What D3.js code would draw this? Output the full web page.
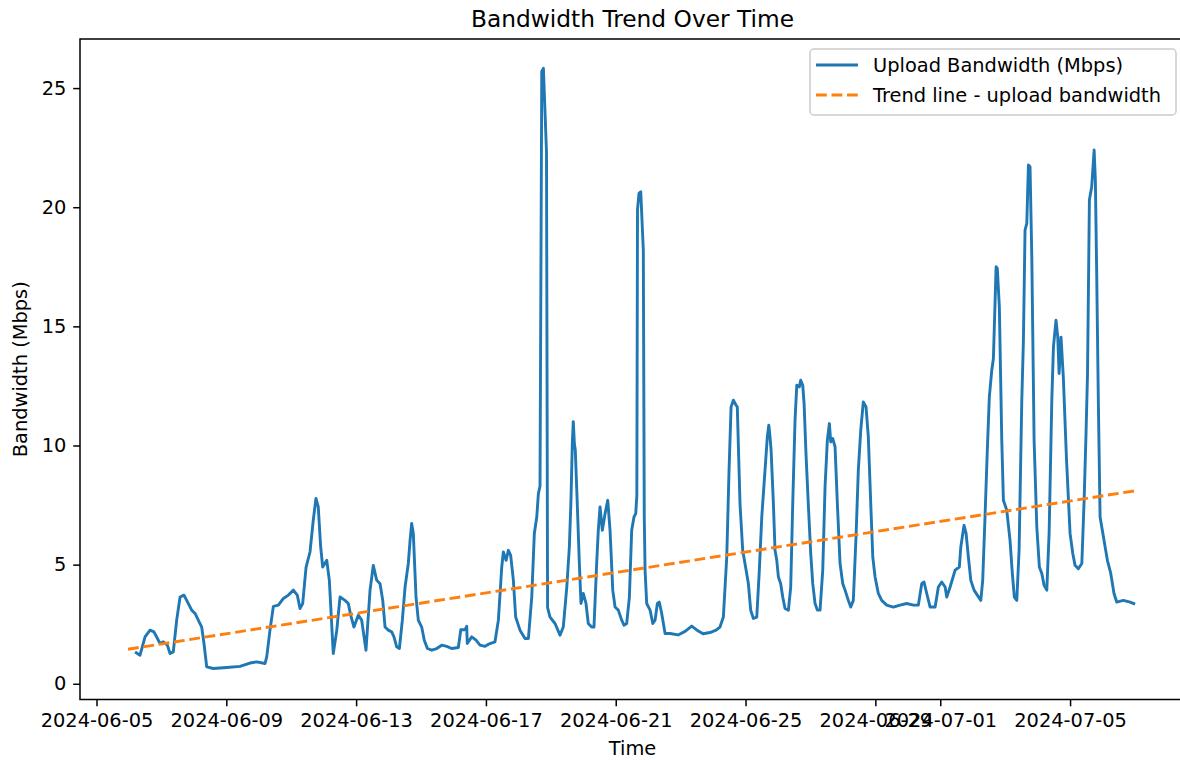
<!DOCTYPE html>
<html><head><meta charset="utf-8">
<script src="https://cdn.jsdelivr.net/npm/d3@7"></script>
<style>
body{margin:0;background:#fff}
svg{display:block;background:#fff}
text{font-family:"DejaVu Sans",sans-serif;fill:#000}
</style>
</head><body>
<svg id="chart" width="1180" height="760"></svg>
<script>
// ---- data ----
const startTime = "2024-06-05T00:00:00Z";
const hours = [28.5,32.2,35.9,39.6,42.5,47.0,49.4,52.4,54.4,56.8,59.3,61.8,64.7,66.7,70.4,72.9,75.3,77.8,79.5,81.5,86.4,96.3,106.1,113.5,118.5,124.6,125.9,128.3,130.8,134.5,138.2,141.9,145.6,148.5,150.5,152.5,155.0,157.9,160.3,162.3,164.0,165.8,167.3,170.3,172.2,175.1,177.7,180.1,183.8,186.2,188.0,190.4,193.6,196.1,199.3,202.3,204.7,207.2,209.7,211.7,213.4,215.8,218.3,220.0,222.0,224.0,226.2,228.2,230.6,231.9,233.1,234.3,236.3,238.0,240.5,242.4,244.7,247.9,251.6,255.3,259.0,262.7,267.6,269.4,272.5,273.8,274.2,277.5,280.7,283.6,287.3,291.0,294.7,297.2,299.7,300.9,302.9,304.6,306.3,308.3,310.0,313.2,316.9,319.4,321.9,323.8,325.6,326.8,328.0,329.3,330.5,332.8,333.6,335.4,339.1,342.8,345.2,347.8,349.7,350.9,351.9,352.6,353.4,354.1,355.4,357.1,358.3,360.0,362.0,363.7,366.2,367.9,369.9,371.1,372.4,374.1,376.1,378.1,379.8,381.8,383.5,385.9,388.4,390.1,392.1,394.1,395.8,397.5,398.8,399.6,400.1,401.2,402.5,404.4,405.1,405.7,406.9,409.4,411.4,413.1,414.8,416.2,418.0,420.5,424.2,430.1,435.3,440.2,444.1,448.6,453.7,458.2,461.1,463.6,466.1,467.8,469.3,471.0,473.0,473.9,475.9,477.9,480.4,482.1,483.8,485.8,488.3,490.2,492.0,494.4,496.1,497.2,498.1,498.9,500.6,501.8,503.1,504.3,506.0,507.5,509.2,511.7,513.4,514.9,516.6,517.9,519.8,520.8,522.3,523.3,524.7,526.4,528.2,529.7,531.4,533.1,535.1,537.1,538.8,540.5,542.0,543.0,544.5,546.2,547.9,549.9,551.9,553.6,556.0,557.8,559.7,561.7,563.4,565.2,567.1,569.1,570.8,572.6,574.1,575.8,578.2,580.7,584.4,589.3,594.3,599.2,604.1,607.8,610.3,612.0,614.0,616.5,620.2,622.6,625.1,627.6,628.8,631.3,635.0,638.1,639.2,641.6,643.1,644.8,646.6,649.0,651.4,654.0,655.4,657.1,658.8,660.3,662.1,663.3,665.3,666.2,667.7,669.5,670.7,673.2,675.6,677.3,678.8,680.6,682.3,684.3,685.5,686.7,688.0,689.2,690.4,691.7,693.4,695.4,697.3,699.1,700.8,702.8,704.5,706.5,707.7,709.6,710.9,711.9,713.3,715.0,717.3,720.0,722.0,723.7,726.1,728.7,730.4,731.8,732.9,734.3,736.0,737.8,738.7,739.7,740.9,742.2,745.1,747.6,750.1,752.5,754.5,759.4,764.4,768.1];
const upload = [1.33,1.2,1.97,2.25,2.18,1.69,1.76,1.62,1.27,1.34,2.67,3.64,3.72,3.5,3.09,2.95,2.67,2.38,1.69,0.71,0.64,0.68,0.73,0.87,0.92,0.85,1.13,2.25,3.25,3.3,3.58,3.72,3.93,3.72,3.16,3.37,4.9,5.53,6.86,7.78,7.42,5.74,4.9,5.18,4.34,1.27,2.25,3.64,3.5,3.37,2.88,2.38,2.88,2.67,1.41,3.93,4.97,4.35,4.2,3.5,2.38,2.25,2.18,1.97,1.55,1.48,2.67,4.06,5.05,6.02,6.73,6.31,3.64,2.67,2.38,1.83,1.48,1.41,1.48,1.62,1.57,1.48,1.52,2.27,2.27,2.41,1.69,1.97,1.83,1.62,1.57,1.69,1.76,2.67,4.9,5.53,5.18,5.6,5.39,4.34,2.8,2.25,1.9,1.9,3.64,6.31,7.0,7.98,8.3,25.7,25.83,22.3,3.2,2.8,2.53,2.04,2.38,4.06,5.74,7.7,10.1,11.0,10.1,9.8,7.8,5.05,3.37,3.79,3.37,2.53,2.38,2.38,5.05,6.44,7.42,6.44,7.14,7.7,6.44,3.93,3.22,3.09,2.67,2.46,2.53,3.64,6.44,7.0,7.14,7.9,19.9,20.58,20.65,18.2,7.0,4.76,3.37,3.09,2.53,2.67,3.37,3.43,2.95,2.11,2.11,2.05,2.2,2.42,2.25,2.1,2.15,2.25,2.38,2.8,5.32,8.96,11.62,11.9,11.69,11.62,7.56,5.6,4.77,4.2,3.09,2.74,2.8,4.77,7.0,8.96,10.36,10.85,10.36,9.8,7.56,5.6,5.18,4.48,4.2,3.64,3.16,3.09,4.06,7.56,11.06,12.53,12.46,12.74,12.53,11.76,9.66,7.56,5.47,4.2,3.37,3.09,3.09,4.77,8.26,10.22,10.92,10.15,10.29,9.94,7.56,5.05,4.2,3.93,3.5,3.22,3.5,6.16,8.96,10.64,11.83,11.62,10.36,7.56,5.32,4.48,3.79,3.5,3.3,3.22,3.3,3.37,3.3,3.3,4.2,4.27,3.79,3.22,3.22,4.06,4.27,4.06,3.64,4.06,4.77,4.9,5.74,6.65,6.31,5.32,4.34,3.93,3.72,3.5,4.34,7.0,9.8,12.04,13.16,13.65,17.5,17.43,15.82,10.22,7.7,7.28,6.02,4.63,3.64,3.5,5.6,11.9,14.42,19.04,19.32,21.77,21.7,17.92,10.22,6.58,4.9,4.63,4.13,3.93,6.31,11.9,14.13,15.26,14.55,13.02,14.55,12.88,9.5,6.31,5.47,4.97,4.83,5.05,7.7,10.5,13.0,20.3,20.86,22.4,21.14,17.22,11.9,7.0,6.02,5.18,4.63,3.79,3.43,3.5,3.43,3.34];
const trendHours = [23.3, 768.1];
const trendValues = [1.45, 8.1];
const xTickLabels = ["2024-06-05","2024-06-09","2024-06-13","2024-06-17","2024-06-21","2024-06-25","2024-06-29","2024-07-01","2024-07-05"];
const yTicks = [0, 5, 10, 15, 20, 25];
const xDomainHours = [-12.2, 805.0];
const yDomain = [-0.66, 27.06];
const seriesNames = ["Upload Bandwidth (Mbps)", "Trend line - upload bandwidth"];
const titleText = "Bandwidth Trend Over Time";
const xLabel = "Time";
const yLabel = "Bandwidth (Mbps)";

// ---- layout ----
const L = 80, R = 1185, T = 39, B = 699.5;
const FS = 19.4;
const t0 = Date.parse(startTime);
const toDate = h => new Date(t0 + h * 3600000);

const svg = d3.select("#chart");
const x = d3.scaleUtc().domain(xDomainHours.map(toDate)).range([L, R]);
const y = d3.scaleLinear().domain(yDomain).range([B, T]);

const clip = svg.append("defs").append("clipPath").attr("id", "plotclip")
  .append("rect").attr("x", L).attr("y", T).attr("width", R - L).attr("height", B - T);

const plot = svg.append("g").attr("clip-path", "url(#plotclip)");

const data = hours.map((h, i) => ({ t: toDate(h), v: upload[i] }));
const trend = trendHours.map((h, i) => ({ t: toDate(h), v: trendValues[i] }));
const line = d3.line().x(d => x(d.t)).y(d => y(d.v));

plot.append("path").datum(data).attr("d", line)
  .attr("fill", "none").attr("stroke", "#1f77b4").attr("stroke-width", 2.9)
  .attr("stroke-linejoin", "round").attr("stroke-linecap", "butt");

plot.append("path").datum(trend).attr("d", line)
  .attr("fill", "none").attr("stroke", "#ff7f0e").attr("stroke-width", 2.9)
  .attr("stroke-dasharray", "10.8,4.7");

// axes
const xAxis = d3.axisBottom(x)
  .tickValues(xTickLabels.map(s => new Date(s + "T00:00:00Z")))
  .tickFormat(d3.utcFormat("%Y-%m-%d"))
  .tickSize(6.8).tickSizeOuter(0).tickPadding(6.8);
const gx = svg.append("g").attr("transform", `translate(0,${B})`).call(xAxis);
gx.select(".domain").remove();
gx.selectAll("line").attr("stroke", "#000").attr("stroke-width", 1.5);
gx.selectAll("text").attr("font-size", FS).attr("font-family", "DejaVu Sans").attr("fill", "#000");

const yAxis = d3.axisLeft(y).tickValues(yTicks).tickFormat(d3.format("d"))
  .tickSize(6.8).tickSizeOuter(0).tickPadding(6.8);
const gy = svg.append("g").attr("transform", `translate(${L},0)`).call(yAxis);
gy.select(".domain").remove();
gy.selectAll("line").attr("stroke", "#000").attr("stroke-width", 1.5);
gy.selectAll("text").attr("font-size", FS).attr("font-family", "DejaVu Sans").attr("fill", "#000");

// frame
svg.append("rect").attr("x", L).attr("y", T).attr("width", R - L).attr("height", B - T)
  .attr("fill", "none").attr("stroke", "#000").attr("stroke-width", 1.5);

// title & labels
svg.append("text").attr("x", (L + R) / 2).attr("y", 27).attr("text-anchor", "middle")
  .attr("font-size", 23.3).text(titleText);
svg.append("text").attr("x", (L + R) / 2).attr("y", 755).attr("text-anchor", "middle")
  .attr("font-size", FS).text(xLabel);
svg.append("text").attr("transform", `translate(27,${(T + B) / 2}) rotate(-90)`)
  .attr("text-anchor", "middle").attr("font-size", FS).text(yLabel);

// legend
const lg = svg.append("g");
lg.append("rect").attr("x", 810).attr("y", 49).attr("width", 366).attr("height", 66).attr("rx", 4)
  .attr("fill", "#fff").attr("fill-opacity", 0.8).attr("stroke", "#cccccc").attr("stroke-width", 1.5);
const legendItems = [
  { name: seriesNames[0], color: "#1f77b4", dash: null },
  { name: seriesNames[1], color: "#ff7f0e", dash: "10.8,4.7" }
];
legendItems.forEach((it, i) => {
  const yy = 65 + i * 30;
  lg.append("line").attr("x1", 816).attr("x2", 858).attr("y1", yy).attr("y2", yy)
    .attr("stroke", it.color).attr("stroke-width", 2.9)
    .attr("stroke-dasharray", it.dash);
  lg.append("text").attr("x", 873).attr("y", yy).attr("dy", "0.36em")
    .attr("font-size", FS).text(it.name);
});
</script>
</body></html>
